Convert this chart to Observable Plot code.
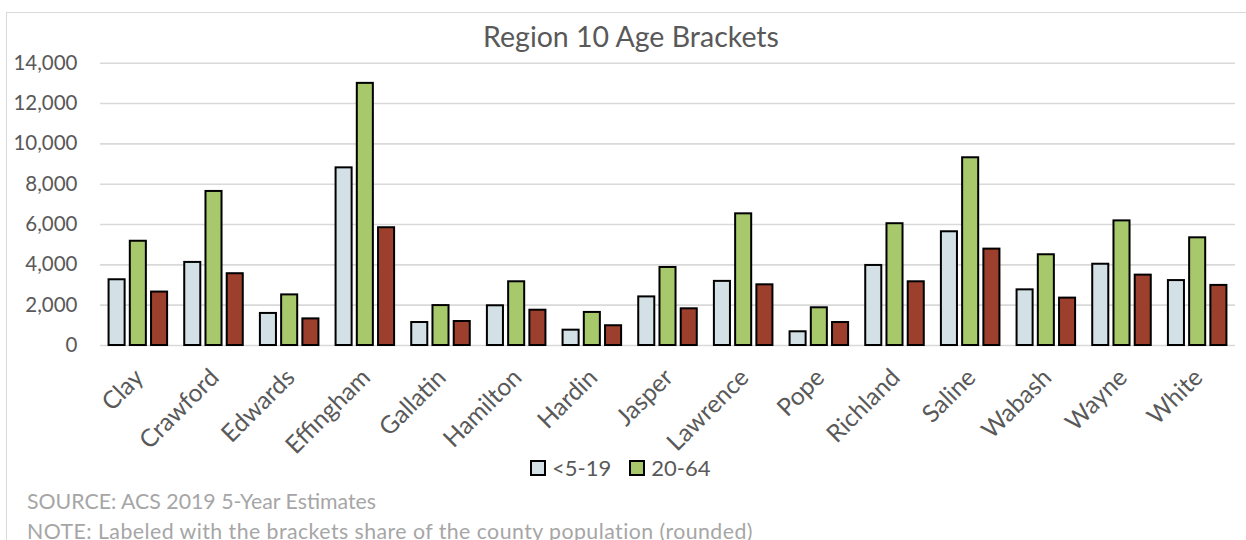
<!DOCTYPE html>
<html>
<head>
<meta charset="utf-8">
<script src="https://cdn.jsdelivr.net/npm/d3@7"></script>
<script src="https://cdn.jsdelivr.net/npm/@observablehq/plot@0.6"></script>
<style>
  html, body { margin: 0; padding: 0; background: #fff; }
  #wrap { position: relative; width: 1246px; height: 540px; overflow: hidden; font-family: Lato, "Open Sans", sans-serif; }
  #frame { position: absolute; left: 6px; top: 12px; right: -10px; bottom: -10px; border-left: 1.5px solid #D9D9D9; border-top: 1.5px solid #D9D9D9; }
  .layer { position: absolute; left: 0; top: 0; }
  .txt { position: absolute; line-height: 1; white-space: nowrap; }
  #title { font-size: 28.5px; color: #595959; top: 21.5px; left: 0; width: 1262px; text-align: center; }
  #legend { top: 457px; left: 530px; font-size: 22px; color: #595959; display: flex; align-items: center; }
  #legend .item { display: flex; align-items: center; margin-right: 18px; }
  #legend .sw { width: 12px; height: 12px; border: 2px solid #000; margin-right: 6px; }
  #source { top: 491px; left: 27px; font-size: 21.3px; color: #A6A6A6; }
  #note { top: 521px; left: 27px; font-size: 21.3px; color: #A6A6A6; letter-spacing: 0.45px; }
</style>
</head>
<body>
<div id="wrap">
  <div id="frame"></div>
  <div id="grid" class="layer"></div>
  <div id="bars" class="layer"></div>
  <div id="title" class="txt">Region 10 Age Brackets</div>
  <div id="legend" class="txt"></div>
  <div id="source" class="txt">SOURCE: ACS 2019 5-Year Estimates</div>
  <div id="note" class="txt">NOTE: Labeled with the brackets share of the county population (rounded)</div>
</div>
<script>
// Counties of Region 10 and population by age bracket
const counties = ["Clay", "Crawford", "Edwards", "Effingham", "Gallatin", "Hamilton", "Hardin", "Jasper",
  "Lawrence", "Pope", "Richland", "Saline", "Wabash", "Wayne", "White"];
const brackets = ["<5-19", "20-64", "65+"];
const under19 = [3260, 4120, 1590, 8810, 1140, 1970, 760, 2410, 3180, 680, 3970, 5640, 2760, 4030, 3220];
const adults20to64 = [5170, 7640, 2510, 13000, 1980, 3160, 1640, 3870, 6530, 1870, 6040, 9310, 4500, 6180, 5340];
const seniors65plus = [2650, 3560, 1320, 5840, 1190, 1750, 980, 1820, 3010, 1140, 3160, 4780, 2350, 3490, 2980];
const yTicks = [0, 2000, 4000, 6000, 8000, 10000, 12000, 14000];
const legendBrackets = ["<5-19", "20-64"];

const colors = ["#D3E0E6", "#A8C96B", "#9C3F2C"];
const series = [under19, adults20to64, seniors65plus];

const rows = [];
counties.forEach((c, i) => {
  brackets.forEach((b, j) => rows.push({county: c, bracket: b, value: series[j][i]}));
});

const W = 1246, H = 540;
const margins = {marginTop: 62.7, marginBottom: 195, marginLeft: 100, marginRight: 11};
const font = "Lato, 'Open Sans', sans-serif";

// Background layer: horizontal gridlines and value axis
const gridPlot = Plot.plot({
  width: W, height: H, ...margins,
  y: {domain: [0, 14000], label: null},
  style: {background: "transparent", fontFamily: font, color: "#595959"},
  marks: [
    Plot.gridY(yTicks, {stroke: "#D9D9D9", strokeOpacity: 1, strokeWidth: 1.6}),
    Plot.axisY(yTicks, {tickSize: 0, tickPadding: 23, tickFormat: d3.format(","), fontSize: 20.5, fill: "#595959", label: null})
  ]
});
document.getElementById("grid").appendChild(gridPlot);

// Foreground layer: grouped bars per county
const barPlot = Plot.plot({
  width: W, height: H, ...margins,
  y: {domain: [0, 14000], axis: null},
  fx: {domain: counties, paddingInner: 0.2, paddingOuter: 0.1, round: false, label: null},
  x: {domain: brackets, padding: 0.15, paddingOuter: 0, round: false, axis: null},
  color: {domain: brackets, range: colors},
  style: {background: "transparent", fontFamily: font, color: "#595959", overflow: "visible"},
  marks: [
    Plot.axisFx({anchor: "bottom", tickRotate: -45, tickSize: 0, tickPadding: 28, dx: 1, fontSize: 24.5, fill: "#595959", label: null}),
    Plot.barY(rows, {fx: "county", x: "bracket", y: "value", fill: "bracket", stroke: "#000", strokeWidth: 2, insetLeft: 1, insetRight: 1})
  ]
});
document.getElementById("bars").appendChild(barPlot);

// Legend
const legend = document.getElementById("legend");
legendBrackets.forEach(b => {
  const item = document.createElement("div");
  item.className = "item";
  const sw = document.createElement("div");
  sw.className = "sw";
  sw.style.background = colors[brackets.indexOf(b)];
  const label = document.createElement("span");
  label.textContent = b;
  item.appendChild(sw);
  item.appendChild(label);
  legend.appendChild(item);
});
</script>
</body>
</html>
